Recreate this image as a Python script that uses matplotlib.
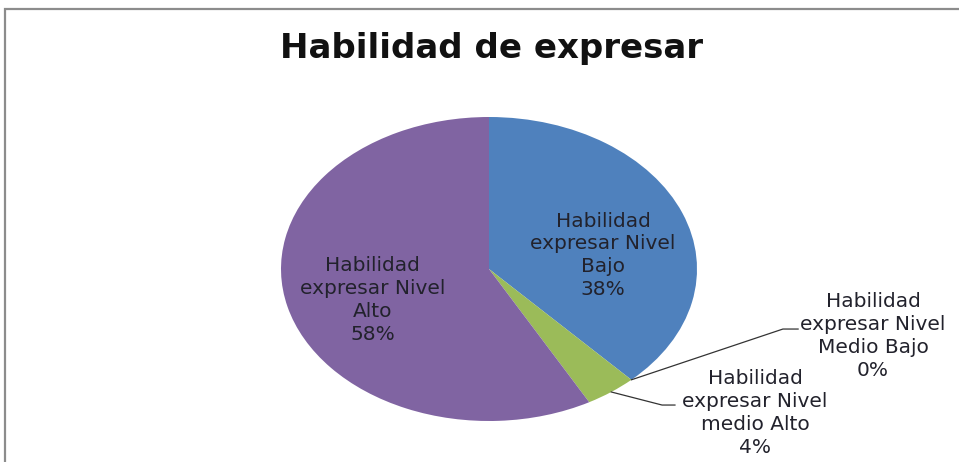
import numpy as np
import matplotlib; matplotlib.use("Agg")
import matplotlib.pyplot as plt
from matplotlib.patches import Rectangle

plt.rcParams["font.family"] = ["DejaVu Sans"]

# --- data ---
labels = ["Habilidad\nexpresar Nivel\nBajo", "Habilidad\nexpresar Nivel\nMedio Bajo",
          "Habilidad\nexpresar Nivel\nmedio Alto", "Habilidad\nexpresar Nivel\nAlto"]
values = [38, 0, 4, 58]
colors = ["#4F81BD", "#C0504D", "#9BBB59", "#8064A2"]
title = "Habilidad de expresar"

fig = plt.figure(figsize=(9.59, 4.62), dpi=100)
fig.patches.append(Rectangle((5 / 959, -0.1), 1.2, (462 - 9) / 462 + 0.1, transform=fig.transFigure,
                             fill=False, edgecolor="#8c8c8c", linewidth=1.6))
fig.text(491.5 / 959, 1 - 58 / 462, title, ha="center", va="baseline", fontsize=24.5,
         fontweight="bold", color="#111111")

ax = fig.add_axes([281 / 959, 41 / 462, 416 / 959, 304 / 462])
wedges, _ = ax.pie(values, colors=colors, startangle=90, counterclock=False,
                   wedgeprops=dict(linewidth=0))
ax.set_aspect("auto")
ax.set_xlim(-1, 1); ax.set_ylim(-1, 1)
ax.axis("off")

total = sum(values)
pct = [f"{round(v / total * 100)}%" for v in values]
# label positions (data coords of the pie axes)
pos = [(0.548, 0.09), (1.846, -0.44), (1.279, -0.947), (-0.56, -0.204)]
for lab, p, (x, y) in zip(labels, pct, pos):
    ax.text(x, y, f"{lab}\n{p}", ha="center", va="center", fontsize=14.5,
            color="#22222c", linespacing=1.25, clip_on=False)

# leader lines for the small slices
elbows = {1: [(1.413, -0.395), (1.486, -0.395)], 2: [(0.832, -0.895), (0.894, -0.895)]}
for i, pts in elbows.items():
    w = wedges[i]
    a = np.deg2rad((w.theta1 + w.theta2) / 2)
    xs = [np.cos(a)] + [p[0] for p in pts]
    ys = [np.sin(a)] + [p[1] for p in pts]
    ax.plot(xs, ys, color="#333333", linewidth=0.9, clip_on=False)

fig.savefig("out.png", dpi=100)
